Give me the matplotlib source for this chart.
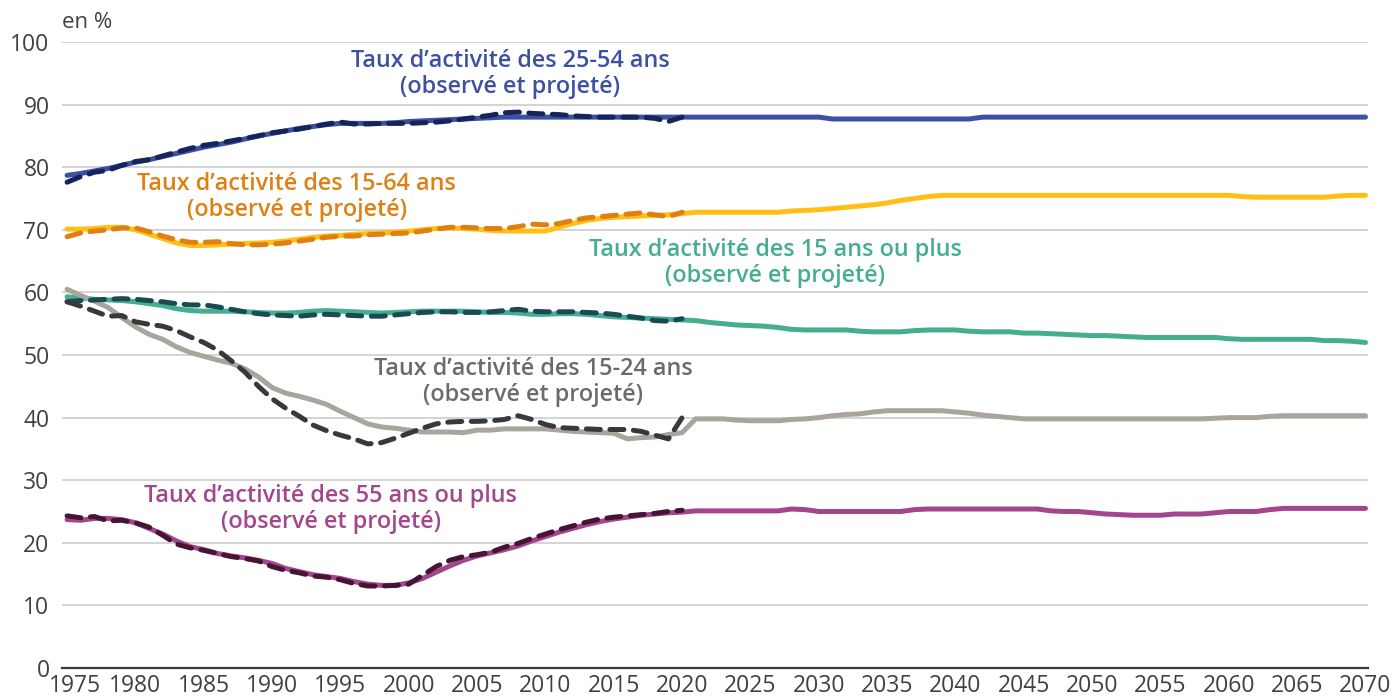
import matplotlib.pyplot as plt
import matplotlib.transforms as mtransforms
import numpy as np

plt.rcParams['font.family'] = ['Open Sans', 'DejaVu Sans']

# years
years_all = np.arange(1975, 2071)
years_obs = np.arange(1975, 2021)

# 25-54 ans (projeté, 1975-2070)
act_2554 = [78.7, 79.0, 79.4, 79.8, 80.3, 80.8, 81.2, 81.7, 82.2, 82.7,
            83.2, 83.6, 84.0, 84.5, 85.0, 85.4, 85.8, 86.2, 86.5, 86.8,
            87.0, 87.0, 87.0, 87.0, 87.1, 87.3, 87.4, 87.5, 87.6, 87.7,
            87.8, 87.9, 88.0, 88.0, 88.0, 88.0, 88.0, 88.0, 88.0, 88.0,
            88.0, 88.0, 88.0, 88.0, 88.0, 88.0, 88.0, 88.0, 88.0, 88.0,
            88.0, 88.0, 88.0, 88.0, 88.0, 88.0, 87.7, 87.7, 87.7, 87.7,
            87.7, 87.7, 87.7, 87.7, 87.7, 87.7, 87.7, 88.0, 88.0, 88.0,
            88.0, 88.0, 88.0, 88.0, 88.0, 88.0, 88.0, 88.0, 88.0, 88.0,
            88.0, 88.0, 88.0, 88.0, 88.0, 88.0, 88.0, 88.0, 88.0, 88.0,
            88.0, 88.0, 88.0, 88.0, 88.0, 88.0]
obs_2554 = [77.6, 78.5, 79.2, 79.5, 80.3, 80.9, 81.2, 81.8, 82.4, 83.0,
            83.5, 83.8, 84.2, 84.6, 85.0, 85.5, 85.8, 86.1, 86.5, 86.9,
            87.2, 86.9, 86.9, 87.0, 87.0, 87.0, 87.1, 87.2, 87.4, 87.7,
            88.0, 88.3, 88.7, 88.8, 88.6, 88.5, 88.4, 88.2, 88.1, 88.0,
            88.0, 88.0, 88.0, 87.8, 87.3, 88.0]

# 15-64 ans
act_1564 = [70.1, 70.1, 70.2, 70.4, 70.4, 70.0, 69.3, 68.6, 67.9, 67.5,
            67.5, 67.6, 67.7, 67.8, 67.9, 68.0, 68.2, 68.5, 68.8, 69.0,
            69.1, 69.3, 69.4, 69.5, 69.6, 69.8, 70.0, 70.2, 70.3, 70.2,
            70.1, 69.9, 69.8, 69.8, 69.8, 69.8, 70.4, 71.0, 71.5, 71.8,
            72.0, 72.1, 72.2, 72.3, 72.4, 72.6, 72.8, 72.8, 72.8, 72.8,
            72.8, 72.8, 72.8, 73.0, 73.1, 73.2, 73.4, 73.6, 73.8, 74.0,
            74.3, 74.7, 75.0, 75.3, 75.5, 75.5, 75.5, 75.5, 75.5, 75.5,
            75.5, 75.5, 75.5, 75.5, 75.5, 75.5, 75.5, 75.5, 75.5, 75.5,
            75.5, 75.5, 75.5, 75.5, 75.5, 75.5, 75.3, 75.2, 75.2, 75.2,
            75.2, 75.2, 75.2, 75.4, 75.5, 75.5]
obs_1564 = [68.9, 69.5, 69.8, 70.0, 70.3, 70.3, 69.7, 69.0, 68.4, 68.0,
            68.0, 68.1, 67.8, 67.6, 67.6, 67.7, 67.9, 68.2, 68.5, 68.8,
            69.0, 69.0, 69.2, 69.3, 69.4, 69.5, 69.8, 70.1, 70.4, 70.4,
            70.3, 70.2, 70.2, 70.5, 70.9, 70.8, 71.0, 71.5, 71.9, 72.1,
            72.3, 72.5, 72.7, 72.4, 72.1, 72.8]

# 15 ans ou plus
act_15p = [59.3, 59.1, 58.9, 58.8, 58.7, 58.5, 58.2, 57.9, 57.4, 57.1,
           57.0, 57.0, 57.0, 56.9, 56.8, 56.7, 56.7, 56.8, 57.0, 57.1,
           57.0, 56.9, 56.8, 56.7, 56.8, 56.9, 57.0, 57.0, 57.0, 57.0,
           56.9, 56.8, 56.8, 56.7, 56.5, 56.5, 56.6, 56.6, 56.5, 56.3,
           56.1, 56.0, 55.9, 55.8, 55.7, 55.6, 55.5, 55.2, 55.0, 54.8,
           54.7, 54.6, 54.4, 54.1, 54.0, 54.0, 54.0, 54.0, 53.8, 53.7,
           53.7, 53.7, 53.9, 54.0, 54.0, 54.0, 53.8, 53.7, 53.7, 53.7,
           53.5, 53.5, 53.4, 53.3, 53.2, 53.1, 53.1, 53.0, 52.9, 52.8,
           52.8, 52.8, 52.8, 52.8, 52.8, 52.6, 52.5, 52.5, 52.5, 52.5,
           52.5, 52.5, 52.3, 52.3, 52.2, 52.0]
obs_15p = [58.5, 58.7, 58.8, 58.9, 59.0, 58.9, 58.7, 58.5, 58.2, 58.0,
           58.0, 57.7, 57.3, 56.9, 56.6, 56.4, 56.3, 56.2, 56.4, 56.5,
           56.4, 56.3, 56.2, 56.2, 56.4, 56.6, 56.8, 56.9, 56.9, 56.8,
           56.8, 56.9, 57.1, 57.3, 57.0, 56.9, 56.9, 56.9, 56.8, 56.7,
           56.5, 56.2, 55.9, 55.5, 55.4, 55.8]

# 15-24 ans
act_1524 = [60.5, 59.5, 58.6, 57.6, 56.0, 54.5, 53.3, 52.5, 51.3, 50.4,
            49.8, 49.2, 48.7, 47.8, 46.5, 44.8, 43.9, 43.4, 42.8, 42.1,
            41.0, 40.0, 39.0, 38.5, 38.3, 38.0, 37.7, 37.7, 37.7, 37.6,
            38.0, 38.0, 38.2, 38.2, 38.2, 38.2, 38.0, 37.8, 37.7, 37.6,
            37.5, 36.6, 36.8, 36.9, 37.3, 37.6, 39.8, 39.8, 39.8, 39.6,
            39.5, 39.5, 39.5, 39.7, 39.8, 40.0, 40.3, 40.5, 40.6, 40.9,
            41.1, 41.1, 41.1, 41.1, 41.1, 40.9, 40.7, 40.4, 40.2, 40.0,
            39.8, 39.8, 39.8, 39.8, 39.8, 39.8, 39.8, 39.8, 39.8, 39.8,
            39.8, 39.8, 39.8, 39.8, 39.9, 40.0, 40.0, 40.0, 40.2, 40.3,
            40.3, 40.3, 40.3, 40.3, 40.3, 40.3]
obs_1524 = [58.5, 57.8, 57.0, 56.2, 56.3, 55.3, 54.9, 54.6, 53.9, 52.9,
            52.0, 50.8, 49.1, 47.3, 45.0, 43.0, 41.5, 40.2, 38.8, 37.9,
            37.2, 36.6, 35.8, 36.0, 36.7, 37.5, 38.3, 39.0, 39.3, 39.4,
            39.4, 39.5, 39.7, 40.3, 39.7, 38.9, 38.4, 38.3, 38.2, 38.1,
            38.1, 38.1, 37.8, 37.2, 36.6, 40.0]

# 55 ans ou plus
act_55p = [23.7, 23.6, 23.9, 23.9, 23.7, 23.2, 22.3, 21.4, 20.3, 19.4,
           18.9, 18.3, 17.9, 17.6, 17.2, 16.7, 15.9, 15.4, 14.9, 14.6,
           14.3, 13.8, 13.4, 13.2, 13.2, 13.6, 14.3, 15.3, 16.3, 17.2,
           17.9, 18.4, 18.9, 19.5, 20.3, 21.0, 21.7, 22.3, 22.9, 23.4,
           23.8, 24.1, 24.4, 24.6, 24.8, 24.9, 25.1, 25.1, 25.1, 25.1,
           25.1, 25.1, 25.1, 25.4, 25.3, 25.0, 25.0, 25.0, 25.0, 25.0,
           25.0, 25.0, 25.3, 25.4, 25.4, 25.4, 25.4, 25.4, 25.4, 25.4,
           25.4, 25.4, 25.1, 25.0, 25.0, 24.8, 24.6, 24.5, 24.4, 24.4,
           24.4, 24.6, 24.6, 24.6, 24.8, 25.0, 25.0, 25.0, 25.3, 25.5,
           25.5, 25.5, 25.5, 25.5, 25.5, 25.5]
obs_55p = [24.3, 24.0, 24.2, 23.5, 23.6, 23.2, 22.5, 21.2, 19.8, 19.2,
           18.8, 18.3, 17.8, 17.5, 17.1, 16.2, 15.6, 15.2, 14.7, 14.5,
           14.1, 13.5, 13.1, 13.1, 13.2, 13.4, 14.8, 16.2, 17.2, 17.8,
           18.1, 18.5, 19.3, 19.9, 20.7, 21.4, 22.1, 22.7, 23.3, 23.8,
           24.1, 24.3, 24.5, 24.7, 25.0, 25.2]

labels = ["Taux d\u2019activit\u00e9 des 25-54 ans\n(observ\u00e9 et projet\u00e9)",
          "Taux d\u2019activit\u00e9 des 15-64 ans\n(observ\u00e9 et projet\u00e9)",
          "Taux d\u2019activit\u00e9 des 15 ans ou plus\n(observ\u00e9 et projet\u00e9)",
          "Taux d\u2019activit\u00e9 des 15-24 ans\n(observ\u00e9 et projet\u00e9)",
          "Taux d\u2019activit\u00e9 des 55 ans ou plus\n(observ\u00e9 et projet\u00e9)"]

series = [
    (act_2554, obs_2554, '#3d51a3', '#16245a', '#3d51a3', (2007.4, 94.9)),
    (act_1564, obs_1564, '#ffbf14', '#e07f12', '#e07f12', (1991.8, 75.2)),
    (act_15p, obs_15p, '#45ae8f', '#1b4a57', '#45ae8f', (2026.8, 64.7)),
    (act_1524, obs_1524, '#a9a59d', '#37393b', '#6b6b6b', (2009.1, 45.7)),
    (act_55p, obs_55p, '#a4468e', '#461534', '#a4468e', (1994.3, 25.4)),
]

fig = plt.figure(figsize=(13.97, 7.0), dpi=100)
ax = fig.add_axes([0.0444, 0.0457, 0.9350, 0.8943])

for i, (proj, obs, c_solid, c_dash, c_txt, pos) in enumerate(series):
    ax.plot(years_all, proj, color=c_solid, lw=3.6, solid_capstyle='round',
            solid_joinstyle='round', zorder=3)
    ax.plot(years_obs, obs, color=c_dash, lw=3.6, dashes=(2.8, 1.9),
            dash_capstyle='round', zorder=4)
    ax.text(pos[0], pos[1], labels[i], color=c_txt, fontsize=16.8,
            fontweight='semibold', ha='center', va='center', linespacing=1.12)

ax.set_xlim(1974.63, 2070.2)
ax.set_ylim(0, 100)
ax.set_yticks(range(0, 101, 10))
ax.set_xticks(range(1975, 2071, 5))
ax.grid(axis='y', color='#d4d4d4', lw=1.4, zorder=0)
ax.set_axisbelow(True)
for s in ['top', 'right', 'left']:
    ax.spines[s].set_visible(False)
ax.spines['bottom'].set_color('#3a3a3a')
ax.spines['bottom'].set_linewidth(1.6)
ax.tick_params(axis='both', length=0, labelsize=16.5, colors='#404040')
ax.tick_params(axis='y', pad=9)
ax.tick_params(axis='x', pad=4)

# first year label sits a little to the right, clear of the "0"
first = ax.get_xticklabels()[0]
first.set_transform(first.get_transform() +
                    mtransforms.ScaledTranslation(0.08, 0, fig.dpi_scale_trans))

fig.text(62 / 1397, 1 - 22 / 700, 'en %', fontsize=16, color='#404040',
         ha='left', va='center')

fig.savefig('out.png', dpi=100, facecolor='white')
